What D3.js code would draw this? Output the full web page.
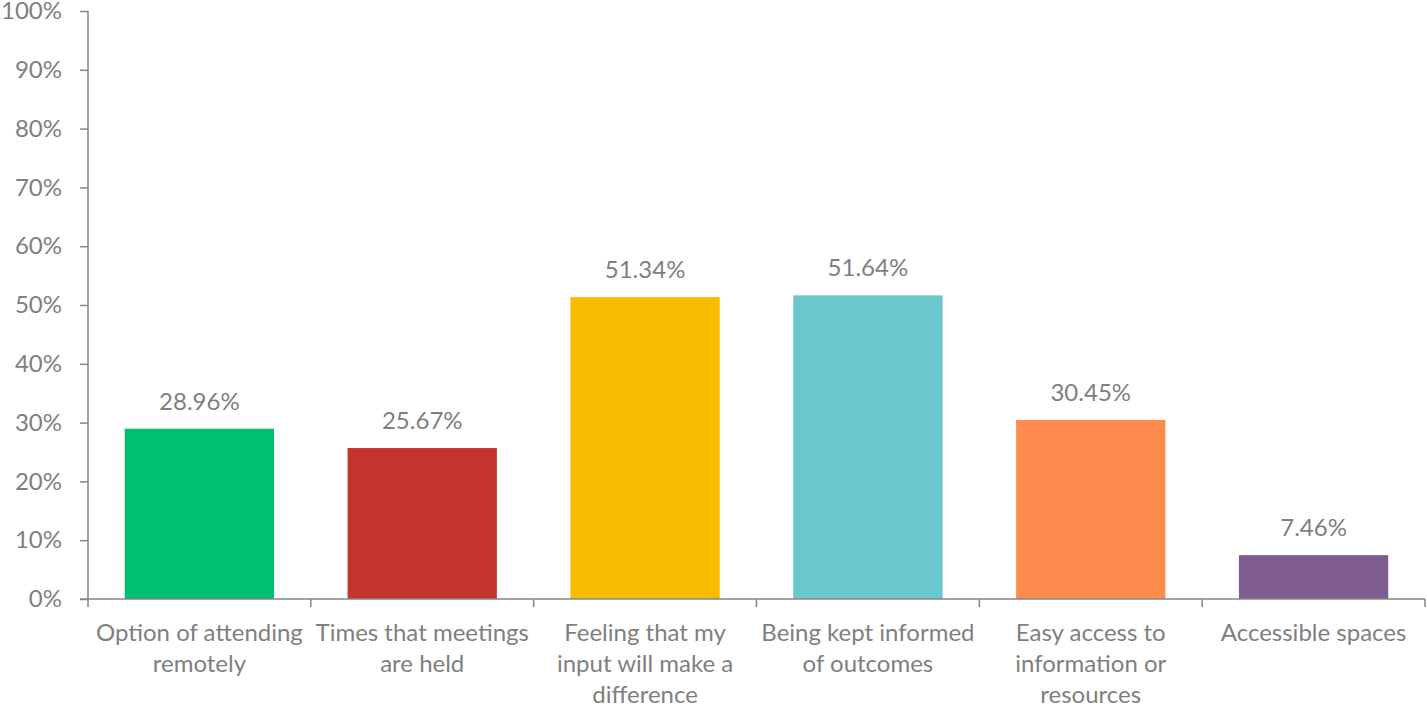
<!DOCTYPE html>
<html>
<head>
<meta charset="utf-8">
<script src="https://cdn.jsdelivr.net/npm/d3@7"></script>
<style>
  body { margin: 0; background: #fff; }
  svg text { font-family: Lato, "Open Sans", sans-serif; fill: #7f7f7f; }
</style>
</head>
<body>
<svg id="chart" width="1427" height="709"></svg>
<script>
// categories, each split into its wrapped label lines
let categories = ["Option of attending remotely", "Times that meetings are held",
    "Feeling that my input will make a difference", "Being kept informed of outcomes",
    "Easy access to information or resources", "Accessible spaces"]
let labelLines = [["Option of attending", "remotely"], ["Times that meetings", "are held"],
    ["Feeling that my", "input will make a", "difference"], ["Being kept informed", "of outcomes"],
    ["Easy access to", "information or", "resources"], ["Accessible spaces"]]
let values = [28.96, 25.67, 51.34, 51.64, 30.45, 7.46]
let barColors = ["#00bf6f", "#c4342d", "#f7bc00", "#6ac7cb", "#ff8b4f", "#7d5c91"]
let yTicks = [0, 10, 20, 30, 40, 50, 60, 70, 80, 90, 100]

let chart = d3.select("#chart")
let plotLeft = 88, plotRight = 1425, plotTop = 11, plotBottom = 599
let axisColor = "#868686"

let xscale = d3.scaleBand()
    .domain(categories)
    .range([plotLeft, plotRight])
    .paddingInner(0.33)
    .paddingOuter(0.165)

let yscale = d3.scaleLinear()
    .domain([0, 100])
    .range([plotBottom, plotTop])

// y axis
let yAxis = chart.append("g")
    .attr("transform", "translate(" + plotLeft + ",0)")
    .call(d3.axisLeft(yscale).tickValues(yTicks).tickSize(8).tickPadding(18).tickFormat(d => d + "%"))
yAxis.selectAll("path, line").attr("stroke", axisColor).attr("stroke-width", 1.5)
yAxis.select(".domain").attr("d", "M0," + plotTop + "V" + plotBottom)
yAxis.selectAll("text").style("font-size", "24px").attr("fill", "#7f7f7f")

// bars
chart.selectAll("rect.bar").data(values)
    .enter().append("rect")
    .attr("class", "bar")
    .attr("x", (d, i) => xscale(categories[i]))
    .attr("width", xscale.bandwidth())
    .attr("y", d => yscale(d))
    .attr("height", d => yscale(0) - yscale(d))
    .attr("fill", (d, i) => barColors[i])

// x axis line + ticks at category boundaries
let step = xscale.step()
let boundaries = d3.range(categories.length + 1).map(i => plotLeft + i * step)
chart.append("line")
    .attr("x1", plotLeft - 8).attr("x2", plotRight)
    .attr("y1", plotBottom).attr("y2", plotBottom)
    .attr("stroke", axisColor).attr("stroke-width", 1.5)
chart.selectAll("line.xtick").data(boundaries)
    .enter().append("line")
    .attr("class", "xtick")
    .attr("x1", d => d).attr("x2", d => d)
    .attr("y1", plotBottom).attr("y2", plotBottom + 8)
    .attr("stroke", axisColor).attr("stroke-width", 1.5)

// value labels
chart.selectAll("text.value").data(values)
    .enter().append("text")
    .attr("class", "value")
    .attr("x", (d, i) => xscale(categories[i]) + xscale.bandwidth() / 2)
    .attr("y", d => yscale(d) - 19)
    .attr("text-anchor", "middle")
    .style("font-size", "24px")
    .text(d => d.toFixed(2) + "%")

// category labels
let labels = chart.selectAll("text.cat").data(labelLines)
    .enter().append("text")
    .attr("class", "cat")
    .attr("text-anchor", "middle")
    .style("font-size", "24px")
labels.each(function (lines, i) {
    let cx = xscale(categories[i]) + xscale.bandwidth() / 2
    d3.select(this).selectAll("tspan").data(lines)
        .enter().append("tspan")
        .attr("x", cx)
        .attr("y", (d, j) => 641 + j * 31)
        .text(d => d)
})
</script>
</body>
</html>
